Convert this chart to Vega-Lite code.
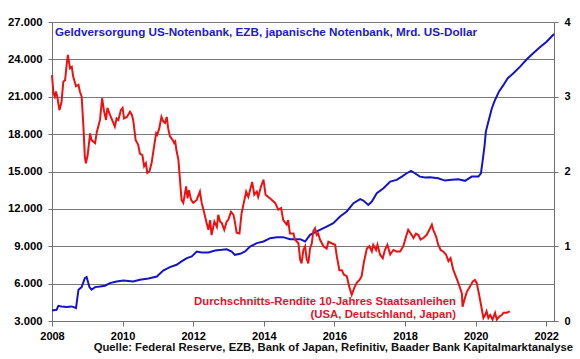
{
  "$schema": "https://vega.github.io/schema/vega-lite/v6.json",
  "width": 502,
  "height": 299,
  "autosize": {"type": "none"},
  "padding": {"left": 52, "top": 22, "right": 26, "bottom": 38},
  "background": "white",
  "config": {
    "view": {"stroke": null},
    "font": "Liberation Sans",
    "axis": {
      "labelFont": "Liberation Sans",
      "labelFontSize": 11,
      "labelFontWeight": "bold",
      "labelColor": "#000000",
      "labelOverlap": false,
      "domainColor": "#707070",
      "tickColor": "#707070",
      "gridWidth": 1,
      "tickCount": 20,
      "title": null
    },
    "axisY": {"tickCount": 20}
  },
  "title": {
    "text": "Quelle: Federal Reserve, EZB, Bank of Japan, Refinitiv, Baader Bank Kapitalmarktanalyse",
    "orient": "bottom",
    "anchor": "end",
    "frame": "bounds",
    "font": "Liberation Sans",
    "fontSize": 11.3,
    "fontWeight": "bold",
    "color": "#111111",
    "offset": 1,
    "dx": 3
  },
  "datasets": {
    "blue": [
      {"year": 2008.0, "value": 3850}, {"year": 2008.13, "value": 3900}, {"year": 2008.18, "value": 4220},
      {"year": 2008.27, "value": 4170}, {"year": 2008.42, "value": 4120}, {"year": 2008.56, "value": 4170},
      {"year": 2008.68, "value": 4040}, {"year": 2008.75, "value": 5510}, {"year": 2008.84, "value": 5720},
      {"year": 2008.93, "value": 6440}, {"year": 2008.98, "value": 6530}, {"year": 2009.06, "value": 5720},
      {"year": 2009.12, "value": 5510}, {"year": 2009.22, "value": 5720}, {"year": 2009.36, "value": 5770},
      {"year": 2009.5, "value": 5830}, {"year": 2009.64, "value": 6040}, {"year": 2009.83, "value": 6170},
      {"year": 2010.02, "value": 6250}, {"year": 2010.3, "value": 6170}, {"year": 2010.49, "value": 6310},
      {"year": 2010.73, "value": 6410}, {"year": 2010.97, "value": 6570}, {"year": 2011.15, "value": 7050},
      {"year": 2011.34, "value": 7320}, {"year": 2011.53, "value": 7510}, {"year": 2011.67, "value": 7780},
      {"year": 2011.82, "value": 8050}, {"year": 2011.96, "value": 8180}, {"year": 2012.1, "value": 8580},
      {"year": 2012.24, "value": 8500}, {"year": 2012.43, "value": 8500}, {"year": 2012.62, "value": 8660},
      {"year": 2012.81, "value": 8710}, {"year": 2012.95, "value": 8760}, {"year": 2013.09, "value": 8580},
      {"year": 2013.18, "value": 8310}, {"year": 2013.33, "value": 8390}, {"year": 2013.47, "value": 8580},
      {"year": 2013.61, "value": 8980}, {"year": 2013.8, "value": 9250}, {"year": 2013.99, "value": 9380},
      {"year": 2014.18, "value": 9650}, {"year": 2014.37, "value": 9730}, {"year": 2014.55, "value": 9730},
      {"year": 2014.74, "value": 9570}, {"year": 2015.03, "value": 9570}, {"year": 2015.17, "value": 9380},
      {"year": 2015.31, "value": 9920}, {"year": 2015.59, "value": 10320}, {"year": 2015.78, "value": 10580},
      {"year": 2015.97, "value": 10850}, {"year": 2016.16, "value": 11390}, {"year": 2016.35, "value": 11790},
      {"year": 2016.54, "value": 12460}, {"year": 2016.73, "value": 12780}, {"year": 2016.82, "value": 12670},
      {"year": 2016.96, "value": 12320}, {"year": 2017.06, "value": 12590}, {"year": 2017.2, "value": 13260},
      {"year": 2017.39, "value": 13660}, {"year": 2017.58, "value": 14190}, {"year": 2017.76, "value": 14330},
      {"year": 2017.91, "value": 14590}, {"year": 2018.05, "value": 14860}, {"year": 2018.17, "value": 15050},
      {"year": 2018.28, "value": 14860}, {"year": 2018.42, "value": 14590}, {"year": 2018.57, "value": 14510},
      {"year": 2018.71, "value": 14540}, {"year": 2018.94, "value": 14460}, {"year": 2019.13, "value": 14270},
      {"year": 2019.32, "value": 14330}, {"year": 2019.51, "value": 14380}, {"year": 2019.7, "value": 14250},
      {"year": 2019.89, "value": 14590}, {"year": 2020.08, "value": 14590}, {"year": 2020.15, "value": 14860},
      {"year": 2020.19, "value": 15670}, {"year": 2020.25, "value": 17000}, {"year": 2020.29, "value": 18200},
      {"year": 2020.36, "value": 19000}, {"year": 2020.46, "value": 20080}, {"year": 2020.55, "value": 20740},
      {"year": 2020.66, "value": 21410}, {"year": 2020.79, "value": 21950}, {"year": 2020.91, "value": 22490},
      {"year": 2021.07, "value": 22890}, {"year": 2021.26, "value": 23420}, {"year": 2021.45, "value": 24010},
      {"year": 2021.63, "value": 24490}, {"year": 2021.82, "value": 24970}, {"year": 2022.01, "value": 25420},
      {"year": 2022.22, "value": 26040}
    ],
    "red": [
      {"year": 2008.0, "value": 3.29}, {"year": 2008.04, "value": 3.05}, {"year": 2008.08, "value": 3.0},
      {"year": 2008.11, "value": 3.07}, {"year": 2008.15, "value": 3.0}, {"year": 2008.21, "value": 2.82},
      {"year": 2008.27, "value": 2.93}, {"year": 2008.32, "value": 3.2}, {"year": 2008.37, "value": 3.22},
      {"year": 2008.42, "value": 3.45}, {"year": 2008.45, "value": 3.56}, {"year": 2008.51, "value": 3.38},
      {"year": 2008.56, "value": 3.4}, {"year": 2008.6, "value": 3.27}, {"year": 2008.68, "value": 3.14},
      {"year": 2008.75, "value": 3.16}, {"year": 2008.79, "value": 3.07}, {"year": 2008.84, "value": 3.0},
      {"year": 2008.89, "value": 2.6}, {"year": 2008.93, "value": 2.2}, {"year": 2008.96, "value": 2.11},
      {"year": 2009.01, "value": 2.22}, {"year": 2009.08, "value": 2.51}, {"year": 2009.12, "value": 2.42},
      {"year": 2009.22, "value": 2.38}, {"year": 2009.27, "value": 2.53}, {"year": 2009.36, "value": 2.69},
      {"year": 2009.42, "value": 2.98}, {"year": 2009.47, "value": 2.82}, {"year": 2009.53, "value": 2.69},
      {"year": 2009.57, "value": 2.85}, {"year": 2009.64, "value": 2.76}, {"year": 2009.72, "value": 2.67},
      {"year": 2009.78, "value": 2.6}, {"year": 2009.83, "value": 2.71}, {"year": 2009.88, "value": 2.69},
      {"year": 2009.95, "value": 2.82}, {"year": 2010.0, "value": 2.85}, {"year": 2010.04, "value": 2.71},
      {"year": 2010.12, "value": 2.73}, {"year": 2010.21, "value": 2.8}, {"year": 2010.26, "value": 2.76},
      {"year": 2010.3, "value": 2.69}, {"year": 2010.37, "value": 2.42}, {"year": 2010.44, "value": 2.36},
      {"year": 2010.49, "value": 2.24}, {"year": 2010.56, "value": 2.22}, {"year": 2010.61, "value": 2.07},
      {"year": 2010.66, "value": 2.11}, {"year": 2010.7, "value": 1.98}, {"year": 2010.76, "value": 2.0},
      {"year": 2010.82, "value": 2.11}, {"year": 2010.89, "value": 2.33}, {"year": 2010.95, "value": 2.51},
      {"year": 2010.98, "value": 2.49}, {"year": 2011.04, "value": 2.58}, {"year": 2011.1, "value": 2.73},
      {"year": 2011.15, "value": 2.67}, {"year": 2011.2, "value": 2.65}, {"year": 2011.25, "value": 2.73},
      {"year": 2011.29, "value": 2.58}, {"year": 2011.34, "value": 2.47}, {"year": 2011.42, "value": 2.42},
      {"year": 2011.46, "value": 2.38}, {"year": 2011.49, "value": 2.4}, {"year": 2011.53, "value": 2.27},
      {"year": 2011.58, "value": 2.16}, {"year": 2011.61, "value": 1.98}, {"year": 2011.67, "value": 1.62},
      {"year": 2011.72, "value": 1.58}, {"year": 2011.8, "value": 1.8}, {"year": 2011.84, "value": 1.64},
      {"year": 2011.88, "value": 1.75}, {"year": 2011.94, "value": 1.62}, {"year": 2012.0, "value": 1.58},
      {"year": 2012.1, "value": 1.62}, {"year": 2012.19, "value": 1.73}, {"year": 2012.24, "value": 1.58},
      {"year": 2012.29, "value": 1.49}, {"year": 2012.38, "value": 1.31}, {"year": 2012.43, "value": 1.22},
      {"year": 2012.48, "value": 1.35}, {"year": 2012.52, "value": 1.15}, {"year": 2012.6, "value": 1.33},
      {"year": 2012.67, "value": 1.26}, {"year": 2012.71, "value": 1.42}, {"year": 2012.76, "value": 1.33},
      {"year": 2012.81, "value": 1.31}, {"year": 2012.88, "value": 1.22}, {"year": 2012.95, "value": 1.33},
      {"year": 2012.99, "value": 1.35}, {"year": 2013.07, "value": 1.46}, {"year": 2013.14, "value": 1.42},
      {"year": 2013.18, "value": 1.33}, {"year": 2013.23, "value": 1.18}, {"year": 2013.31, "value": 1.17},
      {"year": 2013.37, "value": 1.44}, {"year": 2013.45, "value": 1.62}, {"year": 2013.5, "value": 1.73},
      {"year": 2013.56, "value": 1.66}, {"year": 2013.61, "value": 1.75}, {"year": 2013.67, "value": 1.86},
      {"year": 2013.73, "value": 1.69}, {"year": 2013.8, "value": 1.73}, {"year": 2013.84, "value": 1.66},
      {"year": 2013.92, "value": 1.8}, {"year": 2013.99, "value": 1.89}, {"year": 2014.05, "value": 1.69},
      {"year": 2014.18, "value": 1.64}, {"year": 2014.32, "value": 1.58}, {"year": 2014.41, "value": 1.49},
      {"year": 2014.49, "value": 1.51}, {"year": 2014.55, "value": 1.35}, {"year": 2014.65, "value": 1.29},
      {"year": 2014.69, "value": 1.35}, {"year": 2014.74, "value": 1.17}, {"year": 2014.84, "value": 1.17},
      {"year": 2014.88, "value": 1.09}, {"year": 2014.98, "value": 1.04}, {"year": 2015.03, "value": 0.82},
      {"year": 2015.07, "value": 0.77}, {"year": 2015.12, "value": 0.95}, {"year": 2015.17, "value": 1.0},
      {"year": 2015.21, "value": 0.84}, {"year": 2015.26, "value": 0.77}, {"year": 2015.31, "value": 0.97},
      {"year": 2015.36, "value": 1.04}, {"year": 2015.4, "value": 1.2}, {"year": 2015.45, "value": 1.24},
      {"year": 2015.5, "value": 1.15}, {"year": 2015.54, "value": 1.17}, {"year": 2015.59, "value": 1.09},
      {"year": 2015.69, "value": 1.0}, {"year": 2015.78, "value": 0.97}, {"year": 2015.83, "value": 1.06},
      {"year": 2015.92, "value": 1.04}, {"year": 2016.02, "value": 1.02}, {"year": 2016.07, "value": 0.86},
      {"year": 2016.14, "value": 0.68}, {"year": 2016.21, "value": 0.68}, {"year": 2016.27, "value": 0.62},
      {"year": 2016.35, "value": 0.6}, {"year": 2016.42, "value": 0.46}, {"year": 2016.49, "value": 0.35},
      {"year": 2016.56, "value": 0.44}, {"year": 2016.63, "value": 0.51}, {"year": 2016.71, "value": 0.55},
      {"year": 2016.77, "value": 0.6}, {"year": 2016.84, "value": 0.8}, {"year": 2016.92, "value": 0.97},
      {"year": 2016.99, "value": 1.0}, {"year": 2017.06, "value": 0.93}, {"year": 2017.1, "value": 1.02},
      {"year": 2017.18, "value": 0.95}, {"year": 2017.22, "value": 1.02}, {"year": 2017.29, "value": 0.89},
      {"year": 2017.37, "value": 0.84}, {"year": 2017.43, "value": 0.95}, {"year": 2017.5, "value": 1.02},
      {"year": 2017.58, "value": 0.89}, {"year": 2017.67, "value": 0.95}, {"year": 2017.75, "value": 0.93},
      {"year": 2017.86, "value": 0.93}, {"year": 2017.95, "value": 1.0}, {"year": 2018.03, "value": 1.13},
      {"year": 2018.09, "value": 1.22}, {"year": 2018.16, "value": 1.17}, {"year": 2018.24, "value": 1.11},
      {"year": 2018.31, "value": 1.17}, {"year": 2018.38, "value": 1.15}, {"year": 2018.44, "value": 1.09},
      {"year": 2018.52, "value": 1.11}, {"year": 2018.61, "value": 1.15}, {"year": 2018.69, "value": 1.22},
      {"year": 2018.76, "value": 1.29}, {"year": 2018.8, "value": 1.22}, {"year": 2018.88, "value": 1.13},
      {"year": 2018.94, "value": 1.02}, {"year": 2019.01, "value": 0.95}, {"year": 2019.08, "value": 0.93},
      {"year": 2019.16, "value": 0.89}, {"year": 2019.23, "value": 0.8}, {"year": 2019.29, "value": 0.84},
      {"year": 2019.37, "value": 0.68}, {"year": 2019.42, "value": 0.62}, {"year": 2019.51, "value": 0.51},
      {"year": 2019.61, "value": 0.37}, {"year": 2019.63, "value": 0.19}, {"year": 2019.68, "value": 0.28},
      {"year": 2019.75, "value": 0.39}, {"year": 2019.84, "value": 0.46}, {"year": 2019.92, "value": 0.53},
      {"year": 2019.98, "value": 0.55}, {"year": 2020.03, "value": 0.51}, {"year": 2020.1, "value": 0.35},
      {"year": 2020.17, "value": 0.17}, {"year": 2020.22, "value": 0.04}, {"year": 2020.27, "value": 0.08},
      {"year": 2020.31, "value": 0.13}, {"year": 2020.36, "value": 0.04}, {"year": 2020.41, "value": 0.08},
      {"year": 2020.48, "value": 0.02}, {"year": 2020.55, "value": 0.11}, {"year": 2020.6, "value": 0.02},
      {"year": 2020.67, "value": 0.06}, {"year": 2020.74, "value": 0.08}, {"year": 2020.79, "value": 0.11},
      {"year": 2020.88, "value": 0.11}, {"year": 2020.97, "value": 0.13}
    ],
    "leftLabels": [
      {"year": 2008.085, "value": 26174, "label": "Geldversorgung US-Notenbank, EZB, japanische Notenbank, Mrd. US-Dollar"}
    ],
    "rightLabels": [
      {"year": 2019.445, "value": 0.257, "label": "Durchschnitts-Rendite 10-Jahres Staatsanleihen"},
      {"year": 2019.445, "value": 0.083, "label": "(USA, Deutschland, Japan)"}
    ]
  },
  "layer": [
    {
      "encoding": {
        "x": {
          "field": "year", "type": "quantitative",
          "scale": {"domain": [2008, 2022.22], "nice": false, "zero": false},
          "axis": {"values": [2008, 2010, 2012, 2014, 2016, 2018, 2020, 2022], "format": "d", "grid": false, "tickSize": 5, "labelPadding": 4, "labelFlush": false, "labelOverlap": false}
        },
        "y": {
          "field": "value", "type": "quantitative",
          "scale": {"domain": [3000, 27000], "nice": false, "zero": false},
          "axis": {
            "orient": "left",
            "values": [3000, 6000, 9000, 12000, 15000, 18000, 21000, 24000, 27000],
            "labelExpr": "replace(format(datum.value, ','), ',', '.')",
            "grid": true, "gridColor": "#787878", "gridOpacity": 1, "tickSize": 4, "labelPadding": 6, "labelFontSize": 11.3,
            "labelOverlap": false, "labelBound": false, "tickCount": 20
          }
        }
      },
      "layer": [
        {
          "data": {"name": "blue"},
          "mark": {"type": "line", "color": "#1414C8", "strokeWidth": 2}
        },
        {
          "data": {"name": "leftLabels"},
          "mark": {"type": "text", "align": "left", "baseline": "middle", "font": "Liberation Sans", "fontSize": 11.7, "fontWeight": "bold", "color": "#2020C8"},
          "encoding": {"text": {"field": "label"}}
        }
      ]
    },
    {
      "encoding": {
        "x": {"field": "year", "type": "quantitative"},
        "y": {
          "field": "value", "type": "quantitative",
          "scale": {"domain": [0, 4.0001], "nice": false, "zero": true},
          "axis": {"orient": "right", "values": [0, 1, 2, 3, 4], "labelExpr": "format(datum.value, 'd')", "grid": false, "tickSize": 4, "labelPadding": 6, "labelOverlap": false, "labelBound": false, "labelFlush": false, "labelBaseline": "middle", "labelAlign": "left", "tickCount": 20}
        }
      },
      "layer": [
        {
          "data": {"name": "red"},
          "mark": {"type": "line", "color": "#EE1111", "strokeWidth": 2}
        },
        {
          "data": {"name": "rightLabels"},
          "mark": {"type": "text", "align": "right", "baseline": "middle", "font": "Liberation Sans", "fontSize": 11.4, "fontWeight": "bold", "color": "#E2142C"},
          "encoding": {"text": {"field": "label"}}
        }
      ]
    }
  ],
  "resolve": {"scale": {"y": "independent"}}
}
